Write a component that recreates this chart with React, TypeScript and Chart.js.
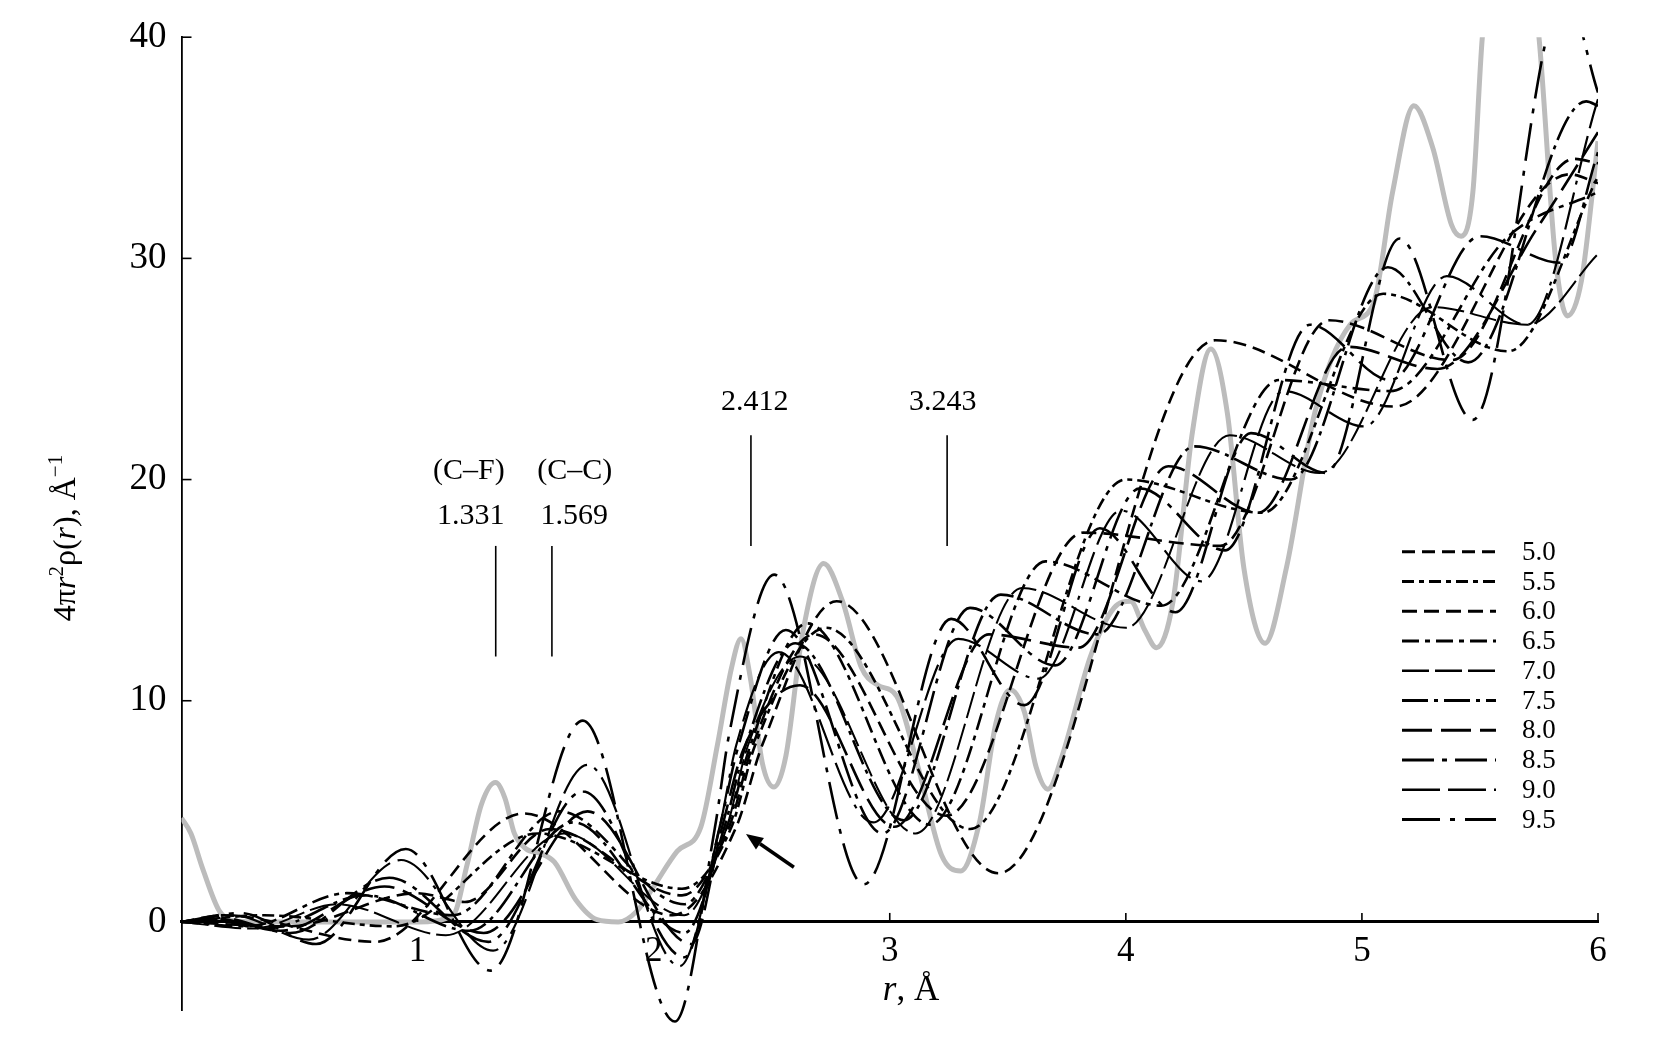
import React, { useEffect, useRef } from 'react';
import { Chart, registerables } from 'chart.js';
Chart.register(...registerables);

const FONT = '"Liberation Serif", "Times New Roman", serif';

// grey (experimental) curve
const greyR = [0,0.04,0.09,0.16,0.22,0.3,0.6,1.0,1.15,1.21,1.27,1.33,1.37,1.41,1.46,1.52,1.58,1.67,1.76,1.85,1.93,2.0,2.1,2.2,2.27,2.33,2.37,2.41,2.46,2.51,2.56,2.63,2.72,2.8,2.88,2.95,3.03,3.12,3.22,3.3,3.38,3.45,3.51,3.57,3.62,3.67,3.73,3.85,3.95,4.02,4.08,4.13,4.2,4.28,4.36,4.43,4.5,4.59,4.68,4.8,4.95,5.05,5.13,5.22,5.3,5.38,5.42,5.47,5.51,5.63,5.75,5.82,5.87,5.93,6.0];
const greyG = [4.7,4.0,2.4,0.5,0.05,0,0,0,0.3,2.6,5.3,6.3,5.6,4.0,3.3,3.1,2.7,1.0,0.1,0,0.5,1.6,3.2,4.3,8.0,11.5,12.8,11,7.2,6.1,7.5,13,16.2,14.5,11.5,10.7,10.2,7,3,2.3,4.5,9,10.5,9.5,7,6.0,7.5,12,14.2,14.5,13.2,12.4,14.5,22,25.9,23,16,12.6,16,23,27,28,33,36.9,35,31.5,31.0,33,40,50,40,30,27.4,29,35.3];

const s50R = [0,0.18,0.82,1.45,2.08,2.35,2.46,2.775,3.46,4.38,5.14,5.88,6.0];
const s50G = [0,0.3,-0.9,4.9,0.3,4.3,8.0,14.5,2.2,26.3,23.3,33.8,33.4];
const s55R = [0,0.35,0.9,1.51,2.12,2.33,2.43,2.73,3.34,4.00,4.58,5.09,5.62,6.0];
const s55G = [0,0.3,-0.2,4.0,1.5,4.3,8.0,13.3,4.2,20.0,18.5,28.4,25.8,33.7];
const s60R = [0,0.45,1.0,1.2,1.56,2.12,2.32,2.42,2.68,3.24,3.82,4.40,4.86,5.38,5.90,6.0];
const s60G = [0,-0.2,1.3,0.9,4.2,1.2,4.3,8.0,13.0,4.8,17.6,17.0,27.2,25.4,34.5,34.3];
const s65R = [0,0.28,0.70,1.15,1.60,2.13,2.31,2.41,2.65,3.17,3.66,4.15,4.65,5.12,5.62,6.0];
const s65G = [0,-0.2,1.3,0.3,5.0,0.8,4.3,8.0,13.5,4.4,16.3,14.3,24.5,24.0,31.0,33.0];
const s70R = [0,0.3,0.66,1.12,1.62,2.13,2.31,2.40,2.62,3.11,3.56,4.00,4.44,4.82,5.30,5.70,6.0];
const s70G = [0,-0.3,0.8,-0.6,4.0,0.3,4.3,8.0,12.0,4.0,15.1,13.3,22.0,20.3,27.8,27.0,30.2];
const s75R = [0,0.12,0.36,0.78,1.22,1.66,2.13,2.30,2.39,2.60,3.06,3.47,3.88,4.29,4.70,5.11,5.45,5.95,6.0];
const s75G = [0,0.1,-0.3,1.2,-0.4,4.5,-0.5,4.3,8.0,12.6,4.6,14.8,13.0,21.5,20.0,29.6,25.3,37.1,36.9];
const s80R = [0,0.14,0.42,0.86,1.28,1.72,2.16,2.29,2.38,2.62,3.02,3.42,3.80,4.18,4.56,4.94,5.32,5.75,6.0];
const s80G = [0,0.15,-0.4,1.6,-0.5,5.0,-1.0,4.3,7.8,10.7,4.3,13.0,12.4,20.6,18.5,26.0,25.0,31.5,35.7];
const s85R = [0,0.16,0.46,0.88,1.30,1.70,2.13,2.28,2.36,2.56,2.97,3.34,3.70,4.06,4.42,4.78,5.12,5.50,5.84,6.0];
const s85G = [0,0.2,-0.5,2.0,-0.9,5.9,-1.6,4.3,8.0,13.2,4.0,14.2,11.6,19.6,16.8,27.0,24.5,31.0,29.8,34.8];
const s90R = [0,0.22,0.54,0.93,1.32,1.72,2.11,2.28,2.35,2.53,2.93,3.29,3.63,3.98,4.32,4.67,5.01,5.36,5.70,6.0];
const s90G = [0,0.3,-0.8,2.8,-1.3,7.1,-2.0,4.3,8.0,12.2,4.5,12.8,11.0,18.6,15.4,24.0,22.4,29.2,27.0,37.2];
const s95R = [0,0.25,0.57,0.95,1.31,1.70,2.09,2.26,2.32,2.51,2.89,3.26,3.57,3.89,4.21,4.53,4.85,5.16,5.47,5.86,6.0];
const s95G = [0,0.4,-1.0,3.3,-2.2,9.1,-4.5,4.3,8.5,15.7,1.7,13.7,9.8,17.8,14.0,22.1,20.3,30.9,22.7,42,37.5];

const seriesLabels = ['5.0','5.5','6.0','6.5','7.0','7.5','8.0','8.5','9.0','9.5'];
const seriesR = [s50R,s55R,s60R,s65R,s70R,s75R,s80R,s85R,s90R,s95R];
const seriesG = [s50G,s55G,s60G,s65G,s70G,s75G,s80G,s85G,s90G,s95G];
const seriesDash = [[13,7],[12,5,5,5],[15,7],[17,6,5,6],[27,6],[26,6,4,6],[30,9],[32,8,5,8],[38,8,38,8,4,8],[38,10,5,10]];
const seriesWidth = [2.6,2.6,2.6,2.6,2.0,2.6,2.6,2.6,2.2,2.6];

const yTicks = [0,10,20,30,40];
const xTicks = [1,2,3,4,5,6];

const markR = [1.331, 1.569, 2.412, 3.243];
const markFrom = [12, 12, 17, 17];
const markTo = [17, 17, 22, 22];
const noteText = ['(C–F)', '(C–C)', '1.331', '1.569', '2.412', '3.243'];
const noteR = [1.217, 1.666, 1.225, 1.664, 2.428, 3.224];
const noteG = [20.4, 20.4, 18.34, 18.34, 23.48, 23.48];
const arrowFrom = [2.594, 2.47];
const arrowTo = [2.391, 3.97];

const pts = (r: number[], g: number[]) => r.map((x, i) => ({ x, y: g[i] }));

const overlay = {
  id: 'overlay',
  afterDatasetsDraw(chart: any) {
    const { ctx, chartArea: ca, scales } = chart;
    const xs = scales.x, ys = scales.y;
    ctx.save();
    ctx.strokeStyle = '#000';
    ctx.fillStyle = '#000';
    ctx.setLineDash([]);
    ctx.lineWidth = 1.6;
    yTicks.forEach((v) => {
      const py = ys.getPixelForValue(v);
      ctx.beginPath(); ctx.moveTo(ca.left, py); ctx.lineTo(ca.left + 10, py); ctx.stroke();
    });
    const y0 = ys.getPixelForValue(0);
    xTicks.forEach((v) => {
      const px = xs.getPixelForValue(v);
      ctx.beginPath(); ctx.moveTo(px, y0); ctx.lineTo(px, y0 - 9); ctx.stroke();
    });
    ctx.lineWidth = 1.6;
    markR.forEach((r, i) => {
      const px = xs.getPixelForValue(r);
      ctx.beginPath();
      ctx.moveTo(px, ys.getPixelForValue(markFrom[i]));
      ctx.lineTo(px, ys.getPixelForValue(markTo[i]));
      ctx.stroke();
    });
    ctx.font = `30px ${FONT}`;
    ctx.textAlign = 'center';
    ctx.textBaseline = 'middle';
    noteText.forEach((t, i) => {
      ctx.fillText(t, xs.getPixelForValue(noteR[i]), ys.getPixelForValue(noteG[i]));
    });
    const ax1 = xs.getPixelForValue(arrowFrom[0]), ay1 = ys.getPixelForValue(arrowFrom[1]);
    const ax2 = xs.getPixelForValue(arrowTo[0]), ay2 = ys.getPixelForValue(arrowTo[1]);
    const ang = Math.atan2(ay2 - ay1, ax2 - ax1);
    const hl = 17, hw = 7;
    const bx = ax2 - hl * Math.cos(ang), by = ay2 - hl * Math.sin(ang);
    ctx.lineWidth = 3.5;
    ctx.beginPath(); ctx.moveTo(ax1, ay1); ctx.lineTo(bx, by); ctx.stroke();
    ctx.beginPath();
    ctx.moveTo(ax2, ay2);
    ctx.lineTo(bx + hw * Math.sin(ang), by - hw * Math.cos(ang));
    ctx.lineTo(bx - hw * Math.sin(ang), by + hw * Math.cos(ang));
    ctx.closePath(); ctx.fill();
    ctx.font = `27px ${FONT}`;
    ctx.textAlign = 'left';
    seriesLabels.forEach((lab, i) => {
      const ly = ca.top + 514.6 + i * 29.75;
      ctx.lineWidth = seriesWidth[i] + 0.4;
      ctx.setLineDash(seriesDash[i]);
      ctx.beginPath(); ctx.moveTo(ca.right - 196, ly); ctx.lineTo(ca.right - 102, ly); ctx.stroke();
      ctx.setLineDash([]);
      ctx.fillText(lab, ca.right - 76, ly + 1);
    });
    ctx.restore();
  },
  afterDraw(chart: any) {
    const { ctx, scales } = chart;
    const xs = scales.x, ys = scales.y;
    ctx.save();
    ctx.fillStyle = '#000';
    const parts = [
      { t: '4π', f: `32px ${FONT}`, dy: 0 },
      { t: 'r', f: `italic 32px ${FONT}`, dy: 0 },
      { t: '2', f: `21px ${FONT}`, dy: -12 },
      { t: 'ρ(', f: `32px ${FONT}`, dy: 0 },
      { t: 'r', f: `italic 32px ${FONT}`, dy: 0 },
      { t: '), Å', f: `32px ${FONT}`, dy: 0 },
      { t: '−1', f: `21px ${FONT}`, dy: -13 },
    ];
    let total = 0;
    const widths = parts.map((p) => { ctx.font = p.f; const w = ctx.measureText(p.t).width; total += w; return w; });
    ctx.translate(65, 538);
    ctx.rotate(-Math.PI / 2);
    ctx.textAlign = 'left';
    ctx.textBaseline = 'alphabetic';
    let cx = -total / 2;
    parts.forEach((p, i) => { ctx.font = p.f; ctx.fillText(p.t, cx, 10 + p.dy); cx += widths[i]; });
    ctx.setTransform(1, 0, 0, 1, 0, 0);
    const y0 = ys.getPixelForValue(0);
    const xp = [
      { t: 'r', f: `italic 35px ${FONT}` },
      { t: ', Å', f: `35px ${FONT}` },
    ];
    let tw = 0;
    const xw = xp.map((p) => { ctx.font = p.f; const w = ctx.measureText(p.t).width; tw += w; return w; });
    let sx = xs.getPixelForValue(3.09) - tw / 2;
    ctx.textBaseline = 'alphabetic';
    xp.forEach((p, i) => { ctx.font = p.f; ctx.fillText(p.t, sx, y0 + 78); sx += xw[i]; });
    ctx.restore();
  },
};

export default function App() {
  const ref = useRef<HTMLCanvasElement>(null);
  useEffect(() => {
    const black = seriesLabels.map((lab, i) => ({
      label: lab,
      data: pts(seriesR[i], seriesG[i]),
      borderColor: '#000',
      borderWidth: seriesWidth[i],
      borderDash: seriesDash[i],
      pointRadius: 0,
      fill: false,
      cubicInterpolationMode: 'monotone' as const,
      clip: { left: 0, top: 0, right: 0, bottom: 16 },
    }));
    const grey = {
      label: 'exp',
      data: pts(greyR, greyG),
      borderColor: '#bcbcbc',
      borderWidth: 5,
      pointRadius: 0,
      fill: false,
      cubicInterpolationMode: 'monotone' as const,
    };
    const chart = new Chart(ref.current as HTMLCanvasElement, {
      type: 'line',
      data: { datasets: [...black, grey] as any },
      options: {
        responsive: false,
        animation: false,
        devicePixelRatio: 1,
        layout: { padding: { left: 0, top: 32.7, right: 57, bottom: 38.6 } },
        plugins: { legend: { display: false }, tooltip: { enabled: false } },
        scales: {
          x: {
            type: 'linear',
            min: 0,
            max: 6,
            position: { y: 0 } as any,
            grid: { display: true, drawOnChartArea: false, drawTicks: false },
            border: { display: true, color: '#000', width: 3 },
            ticks: {
              stepSize: 1,
              padding: 9,
              color: '#000',
              font: { family: FONT, size: 35 },
              callback: (v: any) => (v === 0 ? '' : String(v)),
            },
          },
          y: {
            type: 'linear',
            min: -4,
            max: 40,
            afterFit: (s: any) => { s.width = 181.5; },
            grid: { display: true, drawOnChartArea: false, drawTicks: false },
            border: { display: true, color: '#000', width: 1.8 },
            ticks: {
              stepSize: 10,
              padding: 15,
              color: '#000',
              font: { family: FONT, size: 37 },
              callback: (v: any) => (yTicks.includes(v) ? String(v) : ''),
            },
          },
        },
      },
      plugins: [overlay],
    });
    return () => chart.destroy();
  }, []);
  return (
    <div style={{ position: 'fixed', left: 0, top: 0, width: 1655, height: 1049, background: '#fff' }}>
      <canvas ref={ref} width={1655} height={1049} style={{ width: 1655, height: 1049, display: 'block' }} />
    </div>
  );
}
